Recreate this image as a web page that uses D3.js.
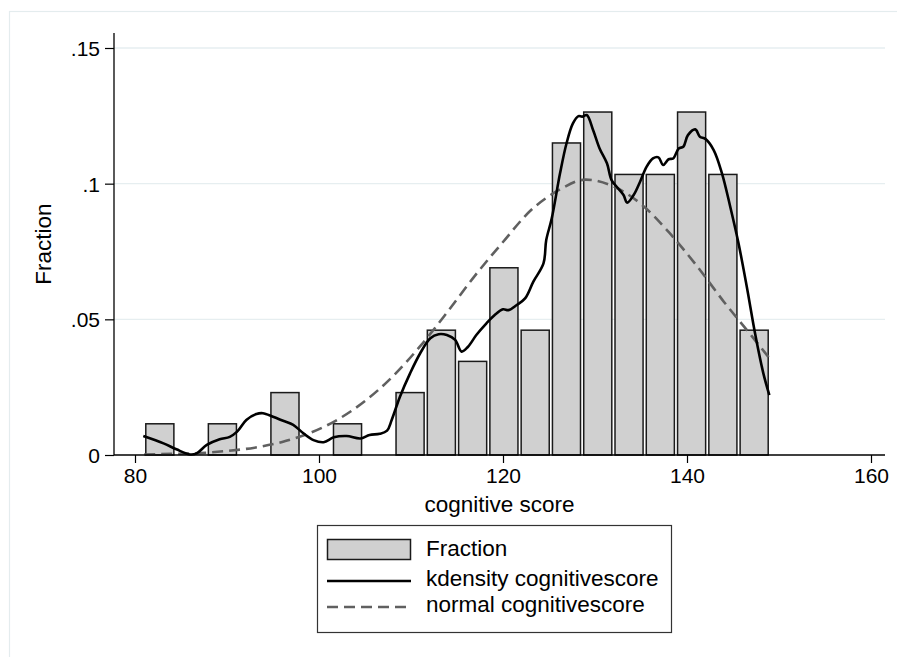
<!DOCTYPE html>
<html>
<head>
<meta charset="utf-8">
<script src="https://cdn.jsdelivr.net/npm/d3@7"></script>
<style>
  body { margin: 0; background: #fff; }
  text { font-family: "Liberation Sans", Arial, sans-serif; fill: #000; }
</style>
</head>
<body>
<svg id="chart" width="897" height="657"></svg>
<script>
// histogram bins (lower / upper edges) and fraction per bin
var binLo = [81, 84.4, 87.8, 91.2, 94.6, 98, 101.4, 104.8, 108.2, 111.6, 115, 118.4, 121.8, 125.2, 128.6, 132, 135.4, 138.8, 142.2, 145.6];
var binHi = [84.4, 87.8, 91.2, 94.6, 98, 101.4, 104.8, 108.2, 111.6, 115, 118.4, 121.8, 125.2, 128.6, 132, 135.4, 138.8, 142.2, 145.6, 149];
var fraction = [0.0115, 0, 0.0115, 0, 0.023, 0, 0.0115, 0, 0.023, 0.046, 0.0345, 0.069, 0.046, 0.115, 0.1264, 0.1034, 0.1034, 0.1264, 0.1034, 0.046];

// kernel density
var kdX = [80.9, 83.1, 84.5, 86.0, 86.7, 87.8, 89.2, 90.3, 91.1, 92.1, 93.2, 93.9, 95.0, 96.1, 97.2, 98.3, 99.4, 100.5, 101.6, 103.0, 104.5, 105.5, 106.6, 107.4, 107.9, 108.8, 109.9, 111.0, 112.1, 113.0, 113.9, 114.8, 115.5, 116.2, 117.1, 118.2, 119.1, 120.0, 120.6, 121.5, 122.4, 123.3, 124.4, 124.7, 125.3, 126.2, 126.9, 127.6, 128.2, 128.6, 129.1, 129.8, 130.5, 131.3, 131.8, 132.5, 133.1, 133.5, 134.2, 134.9, 135.6, 136.3, 136.9, 137.4, 138.0, 138.5, 139.1, 139.6, 140.1, 140.9, 141.4, 142.0, 142.9, 143.8, 144.7, 145.6, 146.5, 147.4, 148.3, 148.95];
var kdY = [0.0070, 0.0043, 0.0021, 0.0002, 0.0006, 0.0037, 0.0058, 0.0067, 0.0086, 0.0129, 0.0151, 0.0154, 0.0141, 0.0126, 0.0111, 0.0080, 0.0055, 0.0047, 0.0065, 0.0070, 0.0061, 0.0074, 0.0078, 0.0090, 0.0129, 0.0215, 0.0301, 0.0375, 0.0430, 0.0445, 0.0442, 0.0424, 0.0381, 0.0399, 0.0442, 0.0485, 0.0516, 0.0537, 0.0534, 0.0553, 0.0577, 0.0639, 0.0706, 0.0792, 0.0872, 0.1038, 0.1148, 0.1222, 0.1249, 0.1247, 0.1253, 0.1197, 0.1130, 0.1075, 0.1013, 0.0983, 0.0958, 0.0930, 0.0958, 0.1007, 0.1062, 0.1093, 0.1097, 0.1069, 0.1090, 0.1093, 0.1130, 0.1136, 0.1179, 0.1200, 0.1173, 0.1165, 0.1124, 0.1038, 0.0915, 0.0780, 0.0620, 0.0448, 0.0301, 0.0221];

// normal overlay
var nmX = [81, 84, 87, 90, 93, 96, 99, 102, 105, 108, 111, 114, 117, 120, 123, 126, 129, 132, 135, 138, 141, 144, 147, 149];
var nmY = [0.0002, 0.0004, 0.0007, 0.0015, 0.0027, 0.0048, 0.0081, 0.0130, 0.0199, 0.0289, 0.0401, 0.0529, 0.0663, 0.0785, 0.0901, 0.0975, 0.1015, 0.0990, 0.0925, 0.0822, 0.0700, 0.0565, 0.0440, 0.0355];

var xTicks = [80, 100, 120, 140, 160];
var yTicks = [0, 0.05, 0.1, 0.15];
var yTickLabels = ["0", ".05", ".1", ".15"];
var legendLabels = ["Fraction", "kdensity cognitivescore", "normal cognitivescore"];

var svg = d3.select("#chart");
var plotLeft = 114, plotRight = 885, plotTop = 33, plotBottom = 455;

var x = d3.scaleLinear().domain([80, 160]).range([135, 871]);
var y = d3.scaleLinear().domain([0, 0.15]).range([455, 48]);

// outer frame
svg.append("rect")
  .attr("x", 9.5).attr("y", 11.5).attr("width", 900).attr("height", 660)
  .attr("fill", "none").attr("stroke", "#e4ecee").attr("stroke-width", 1.2);

// gridlines
svg.append("g").selectAll("line")
  .data(yTicks.filter(d => d > 0))
  .enter().append("line")
  .attr("x1", plotLeft).attr("x2", plotRight)
  .attr("y1", d => y(d)).attr("y2", d => y(d))
  .attr("stroke", "#e6eef0").attr("stroke-width", 1.4);

// bars
svg.append("g").selectAll("rect")
  .data(d3.range(fraction.length).filter(i => fraction[i] > 0))
  .enter().append("rect")
  .attr("x", i => x(binLo[i]) + 1.6)
  .attr("width", i => x(binHi[i]) - x(binLo[i]) - 3.2)
  .attr("y", i => y(fraction[i]))
  .attr("height", i => y(0) - y(fraction[i]))
  .attr("fill", "#d0d0d0")
  .attr("stroke", "#1a1a1a")
  .attr("stroke-width", 1.5);

// normal curve
var nmPts = nmX.map((d, i) => [d, nmY[i]]);
svg.append("path")
  .datum(nmPts)
  .attr("fill", "none")
  .attr("stroke", "#606060")
  .attr("stroke-width", 2.6)
  .attr("stroke-dasharray", "11,6")
  .attr("d", d3.line().x(d => x(d[0])).y(d => y(d[1])).curve(d3.curveMonotoneX));

// kdensity curve
var kdPts = kdX.map((d, i) => [d, kdY[i]]);
svg.append("path")
  .datum(kdPts)
  .attr("fill", "none")
  .attr("stroke", "#000")
  .attr("stroke-width", 2.6)
  .attr("stroke-linejoin", "round")
  .attr("d", d3.line().x(d => x(d[0])).y(d => y(d[1])).curve(d3.curveCatmullRom.alpha(0.5)));

// y axis
var yAxis = svg.append("g")
  .attr("transform", "translate(" + plotLeft + ",0)")
  .call(d3.axisLeft(y).tickValues(yTicks).tickFormat((d, i) => yTickLabels[i]).tickSize(9).tickPadding(5));
yAxis.select(".domain").remove();
yAxis.append("line").attr("x1", 0).attr("x2", 0).attr("y1", plotTop).attr("y2", plotBottom)
  .attr("stroke", "#000").attr("stroke-width", 1.3);
yAxis.selectAll(".tick line").attr("stroke", "#000").attr("stroke-width", 1.2);
yAxis.selectAll(".tick text").style("font-size", "21px").attr("dy", "0.35em")
  .attr("font-family", "Liberation Sans, Arial, sans-serif").attr("fill", "#000");

// x axis
var xAxis = svg.append("g")
  .attr("transform", "translate(0," + plotBottom + ")")
  .call(d3.axisBottom(x).tickValues(xTicks).tickFormat(d3.format("d")).tickSize(8).tickPadding(5));
xAxis.select(".domain").remove();
xAxis.append("line").attr("x1", plotLeft).attr("x2", plotRight).attr("y1", 0).attr("y2", 0)
  .attr("stroke", "#000").attr("stroke-width", 1.3);
xAxis.selectAll(".tick line").attr("stroke", "#000").attr("stroke-width", 1.2);
xAxis.selectAll(".tick text").style("font-size", "21px").attr("dy", "0.71em")
  .attr("font-family", "Liberation Sans, Arial, sans-serif").attr("fill", "#000");

// axis titles
svg.append("text")
  .attr("x", (plotLeft + plotRight) / 2).attr("y", 512)
  .attr("text-anchor", "middle").style("font-size", "22.5px")
  .text("cognitive score");

svg.append("text")
  .attr("transform", "translate(51," + (plotTop + plotBottom) / 2 + ") rotate(-90)")
  .attr("text-anchor", "middle").style("font-size", "22.5px")
  .text("Fraction");

// legend
var lg = svg.append("g");
lg.append("rect")
  .attr("x", 317.5).attr("y", 525.5).attr("width", 354).attr("height", 107)
  .attr("fill", "#fff").attr("stroke", "#333").attr("stroke-width", 1.2);

var rowY = [549.5, 581, 607];
var textY = [556, 586, 612];
lg.append("rect")
  .attr("x", 327.5).attr("y", 539.5).attr("width", 83).attr("height", 20)
  .attr("fill", "#d0d0d0").attr("stroke", "#1a1a1a").attr("stroke-width", 1.5);
lg.append("line")
  .attr("x1", 327).attr("x2", 411).attr("y1", rowY[1]).attr("y2", rowY[1])
  .attr("stroke", "#000").attr("stroke-width", 2.6);
lg.append("line")
  .attr("x1", 327).attr("x2", 411).attr("y1", rowY[2]).attr("y2", rowY[2])
  .attr("stroke", "#606060").attr("stroke-width", 2.6).attr("stroke-dasharray", "11,6");

lg.selectAll("text.lab")
  .data(legendLabels)
  .enter().append("text")
  .attr("class", "lab")
  .attr("x", 426)
  .attr("y", (d, i) => textY[i])
  .style("font-size", "22.5px")
  .text(d => d);
</script>
</body>
</html>
